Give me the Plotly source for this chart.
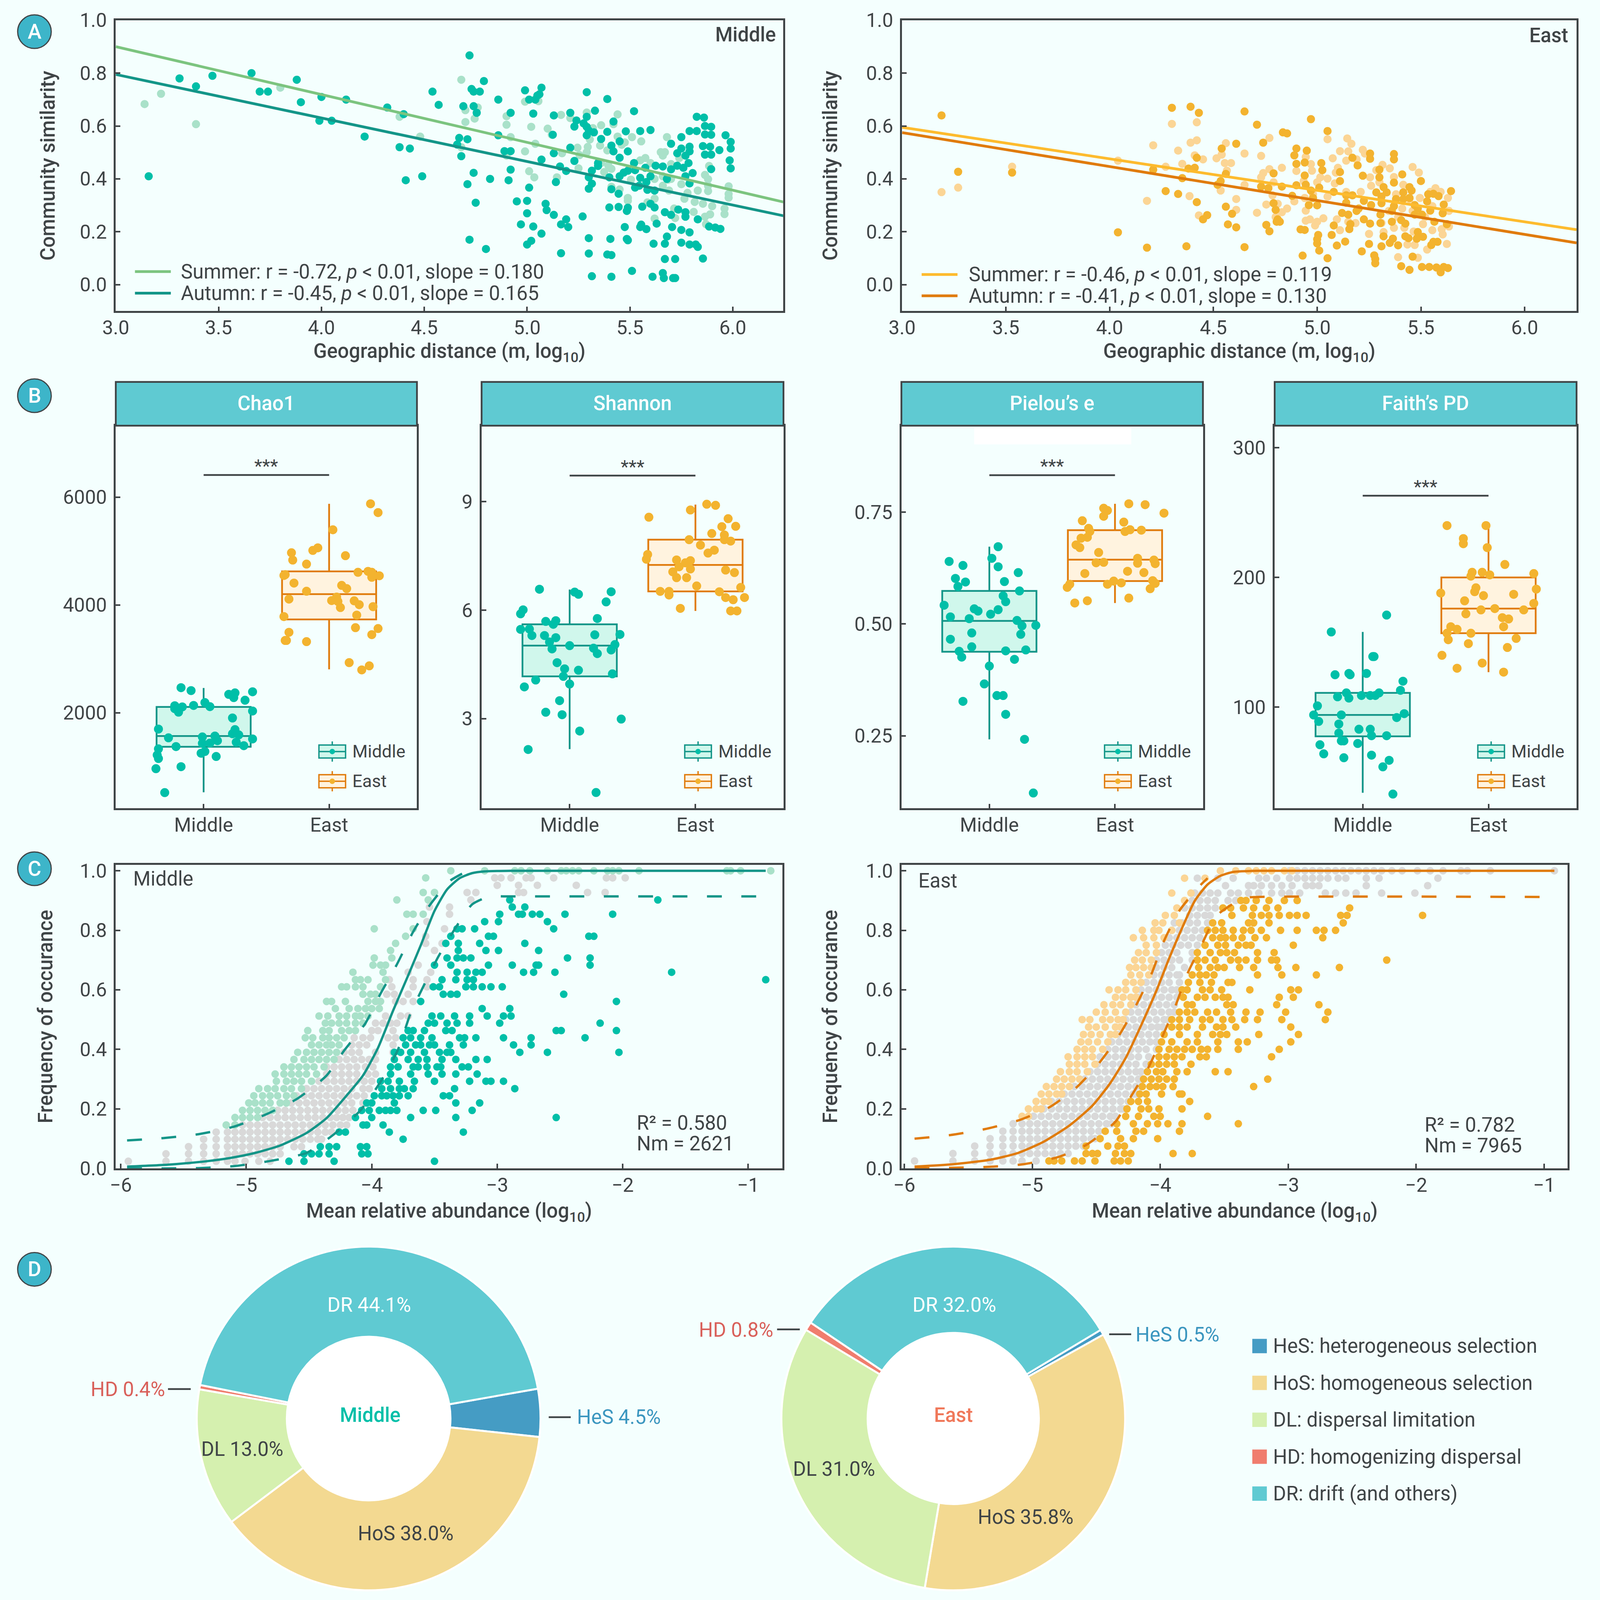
import plotly.graph_objects as go

# positions below are read in the reference's own pixels (4505 x 4901);
# the browser window caps at 4096 x 4096 so the figure is laid out to fill that
W = 4505
H = 4901
OUT = 4096
SX = OUT / W
SY = OUT / H

BG = "#F4FFFE"
INK = "#3F4446"
STRIP = "#5FCAD2"
TEAL = "#00BFA8"
TEAL_LINE = "#149588"
TEAL_FILL = "#D0F7EC"
GREEN_PALE = "#A9E1C9"
GREEN_LINE = "#7CC47F"
ORANGE = "#F3B32F"
ORANGE_LINE = "#E07B0C"
ORANGE_FILL = "#FFF3DF"
ORANGE_PALE = "#FBD595"
YELLOW_LINE = "#FDBB2E"
GRAY = "#D9D9D9"

# -------------------------
# A: DISTANCE DECAY DATA
# -------------------------
mid_autumn_x = [3.16,3.31,3.39,3.47,3.66,3.70,3.74,3.88,3.90,3.99,4.00,4.05,4.12,4.21,4.32,4.38,4.40,4.43,4.41,4.49,4.54,4.57,4.66,4.67,4.71,4.68,4.69,4.72,4.73,4.74,4.77,4.79,4.74,4.755,4.74,4.71,4.75,4.82,4.72,4.80,4.86,4.92,4.86,4.89,4.92,4.92,4.91,4.95,5.00,5.01,5.00,4.97,5.03,5.07,5.02,5.00,4.99,5.01,5.04,5.05,5.06,5.07,5.03,5.13,5.21,5.125,5.13,5.21,5.07,5.16,5.23,5.19,5.14,5.09,5.095,5.13,5.19,5.165,5.20,5.27,5.30,5.165,5.30,5.315,5.41,5.405,5.39,5.41,5.475,5.485,5.49,5.51,5.61,5.615,5.67,5.66,5.665,5.71,5.72,5.67,5.72,5.855,5.68,5.75,5.79,5.82,5.83,5.79,5.75,5.705,5.55,5.555,5.58,5.63,5.83,5.885,5.915,5.94,5.29,5.39,5.33,5.52,5.29,5.24,5.275,5.23,5.29,5.30,5.325,5.29,5.42,5.39,5.36,5.48,5.55,5.60,5.45,5.41,5.42,5.49,5.45,5.345,5.345,5.315,5.30,5.315,5.30,5.40,5.41,5.445,5.40,5.445,5.49,5.485,5.45,5.47,5.52,5.49,5.525,5.575,5.55,5.58,5.525,5.545,5.585,5.62,5.60,5.625,5.66,5.70,5.73,5.76,5.785,5.805,5.77,5.79,5.68,5.60,5.62,5.56,5.67,5.70,5.735,5.77,5.77,5.70,5.75,5.73,5.75,5.77,5.79,5.79,5.79,5.825,5.825,5.86,5.865,5.895,5.865,5.895,5.855,5.89,5.865,5.895,5.895,5.935,5.965,5.99,5.99,5.985,5.99]
mid_autumn_y = [.41,.78,.75,.79,.80,.73,.73,.775,.69,.62,.71,.62,.70,.56,.67,.52,.645,.515,.395,.41,.73,.68,.53,.555,.55,.486,.675,.867,.74,.73,.73,.77,.675,.65,.423,.38,.31,.40,.17,.135,.70,.65,.565,.505,.505,.435,.395,.315,.317,.367,.27,.228,.22,.193,.166,.152,.735,.70,.70,.715,.72,.745,.647,.64,.65,.567,.497,.518,.473,.447,.468,.43,.388,.306,.282,.264,.247,.228,.218,.258,.176,.119,.118,.032,.03,.173,.114,.112,.218,.173,.168,.052,.03,.155,.155,.044,.025,.025,.025,.097,.097,.099,.182,.159,.152,.152,.143,.198,.207,.218,.218,.227,.21,.231,.247,.22,.216,.211,.728,.702,.658,.656,.635,.621,.61,.598,.597,.583,.576,.565,.617,.578,.551,.58,.581,.585,.542,.526,.504,.504,.48,.46,.449,.431,.406,.382,.363,.406,.361,.344,.292,.294,.291,.279,.41,.424,.46,.431,.433,.442,.404,.388,.367,.374,.359,.356,.41,.45,.447,.436,.45,.442,.46,.422,.41,.383,.40,.306,.292,.295,.274,.264,.284,.274,.257,.533,.558,.497,.515,.488,.504,.522,.581,.581,.635,.632,.60,.597,.568,.567,.524,.522,.492,.492,.437,.509,.565,.54,.515,.47,.44]
mid_summer_x = [3.14,3.22,3.39,3.80,4.38,4.48,4.68,4.70,4.76,4.70,4.745,4.68,4.90,4.90,4.92,4.90,4.99,5.055,5.02,5.04,4.99,5.01,5.035,5.10,5.12,5.165,5.21,5.17,5.245,5.145,5.25,5.29,5.36,5.32,5.44,5.42,5.305,5.355,5.295,5.29,5.255,5.39,5.46,5.44,5.475,5.51,5.555,5.36,5.395,5.375,5.41,5.41,5.49,5.49,5.505,5.55,5.575,5.60,5.65,5.67,5.66,5.68,5.74,5.70,5.66,5.685,5.66,5.69,5.585,5.62,5.62,5.72,5.715,5.765,5.78,5.815,5.83,5.855,5.81,5.865,5.87,5.865,5.88,5.885,5.88,5.88,5.90,5.89,5.96,5.96,5.98,5.98,5.98,5.70,5.75,5.62,5.45]
mid_summer_y = [.683,.722,.607,.745,.635,.56,.775,.66,.67,.615,.628,.52,.637,.605,.558,.488,.692,.694,.597,.533,.504,.429,.406,.59,.567,.642,.63,.497,.518,.406,.44,.651,.603,.592,.644,.607,.549,.526,.521,.501,.49,.508,.529,.56,.538,.558,.542,.46,.451,.426,.438,.37,.328,.317,.397,.47,.479,.46,.501,.501,.488,.558,.479,.456,.41,.397,.374,.356,.311,.325,.25,.252,.288,.325,.347,.313,.356,.306,.275,.257,.229,.415,.399,.449,.374,.354,.297,.266,.288,.267,.372,.343,.329,.40,.38,.40,.36]
mid_fit_x = [3.0, 6.25]
mid_summer_fit = [0.90, 0.312]
mid_autumn_fit = [0.795, 0.26]

east_autumn_x = [3.19,3.27,3.53,4.04,4.18,4.21,4.30,4.39,4.43,4.27,4.33,4.35,4.38,4.41,4.42,4.42,4.37,4.45,4.47,4.52,4.535,4.56,4.54,4.61,4.65,4.71,4.74,4.835,4.855,4.56,4.59,4.57,4.61,4.65,4.73,4.765,4.79,4.83,4.79,4.80,4.81,4.805,4.82,4.755,4.77,4.90,4.95,4.89,4.90,4.94,4.94,4.90,4.945,4.88,4.97,5.05,5.02,5.025,5.01,4.97,4.98,5.08,5.11,5.11,4.96,5.00,4.92,4.94,5.005,5.00,5.00,5.01,4.93,5.05,5.07,5.08,5.095,5.135,5.17,5.195,5.255,5.255,5.22,5.30,5.30,5.37,5.37,5.37,5.41,5.50,5.445,5.455,5.415,5.285,5.335,5.32,5.31,5.225,5.14,5.17,5.14,5.12,5.15,5.19,5.20,5.26,5.31,5.38,5.415,5.445,5.37,5.36,5.305,5.225,5.16,5.155,5.255,5.305,5.36,5.405,5.425,5.47,5.485,5.47,5.505,5.53,5.535,5.56,5.585,5.61,5.545,5.605,5.645,5.565,5.625,5.32,5.365,5.35,5.39,5.25,5.31,5.215,5.275,5.28,5.28,5.405,5.445,5.46,5.425,5.44,5.485,5.48,5.51,5.55,5.56,5.58,5.505,5.54,5.575,5.61,5.63,5.595]
east_autumn_y = [.64,.427,.424,.198,.14,.435,.669,.673,.65,.354,.343,.403,.439,.442,.48,.312,.145,.247,.263,.378,.392,.419,.515,.533,.655,.605,.537,.576,.572,.295,.268,.228,.217,.142,.371,.365,.421,.371,.308,.283,.247,.238,.238,.226,.202,.515,.507,.489,.457,.462,.413,.376,.378,.336,.626,.581,.46,.433,.367,.356,.328,.351,.426,.392,.301,.30,.209,.207,.188,.172,.156,.129,.11,.10,.188,.224,.148,.163,.48,.451,.496,.476,.412,.435,.406,.494,.474,.386,.417,.392,.369,.356,.349,.349,.349,.369,.333,.317,.338,.338,.31,.271,.265,.279,.288,.301,.308,.324,.324,.328,.297,.279,.265,.247,.229,.21,.231,.233,.238,.244,.231,.301,.288,.265,.265,.315,.342,.344,.335,.303,.28,.27,.354,.238,.229,.183,.174,.158,.149,.154,.145,.126,.111,.097,.081,.07,.056,.106,.183,.176,.199,.174,.181,.15,.162,.162,.067,.067,.065,.067,.063,.047]
east_summer_x = [3.19,3.27,3.53,4.04,4.18,4.21,4.27,4.30,4.33,4.42,4.42,4.39,4.41,4.35,4.45,4.385,4.43,4.515,4.56,4.54,4.555,4.585,4.565,4.535,4.61,4.61,4.65,4.65,4.71,4.73,4.77,4.74,4.73,4.77,4.83,4.79,4.785,4.755,4.81,4.83,4.80,4.855,4.90,4.945,4.97,4.975,4.935,4.89,4.94,4.98,4.945,4.965,4.945,4.99,5.03,5.00,5.05,5.11,5.075,5.15,5.145,5.165,5.22,5.23,5.14,5.015,5.05,5.00,5.085,5.10,5.09,5.19,5.285,5.315,5.35,5.37,5.255,5.26,5.30,5.21,5.14,5.05,5.46,5.49,5.415,5.38,5.445,5.095,5.15,5.11,5.185,5.25,5.32,5.37,5.42,5.31,5.345,5.39,5.435,5.47,5.39,5.485,5.53,5.465,5.51,5.555,5.60,5.495,5.545,5.595,5.57,5.63,5.635,5.605,5.625,5.52,5.555,5.635,5.41,5.46]
east_summer_y = [.35,.367,.446,.469,.317,.527,.446,.608,.507,.614,.546,.537,.489,.457,.474,.335,.262,.478,.535,.492,.46,.46,.431,.356,.324,.283,.496,.377,.272,.487,.555,.422,.406,.437,.442,.387,.338,.303,.306,.274,.256,.288,.43,.483,.456,.431,.392,.315,.328,.342,.28,.247,.242,.224,.251,.238,.55,.505,.478,.504,.553,.533,.51,.496,.469,.406,.401,.387,.383,.442,.424,.474,.433,.453,.44,.407,.406,.374,.387,.351,.351,.333,.445,.424,.378,.342,.324,.247,.238,.206,.233,.192,.199,.215,.215,.233,.279,.256,.152,.15,.104,.102,.133,.201,.229,.206,.21,.328,.351,.351,.365,.328,.22,.19,.154,.256,.297,.279,.288,.279]
east_fit_x = [3.0, 6.25]
east_summer_fit = [0.595, 0.208]
east_autumn_fit = [0.575, 0.158]

# -------------------------
# B: ALPHA DIVERSITY DATA
# -------------------------
chao_mid_box = dict(q1=1368, median=1568, q3=2108, low=524, high=2459)
chao_east_box = dict(q1=3730, median=4200, q3=4622, low=2805, high=5876)
chao_mid_jit = [-.18,-.10,.20,.25,.24,.39,.33,.01,-.08,.05,-.23,-.17,-.23,-.20,.39,.23,-.36,.25,.23,.28,-.01,-.28,.09,.11,.05,-.01,.26,.39,.32,-.22,-.36,.01,-.02,-.37,.10,-.36,-.18,-.38,-.31]
chao_mid_val = [2465,2411,2341,2368,2281,2389,2232,2189,2135,2114,2130,2108,2076,2011,2032,1903,1697,1687,1611,1589,1551,1535,1568,1481,1438,1432,1454,1514,1389,1373,1330,1281,1249,1216,1189,1151,1000,962,519]
chao_east_jit = [.33,.39,.03,-.30,-.29,-.13,-.09,.13,-.18,-.35,-.36,.23,.31,.34,.40,.34,-.28,.10,.14,-.18,-.32,.06,.02,.07,.09,.20,.24,.35,-.36,.22,.21,.39,.34,-.32,-.35,-.34,-.18,.16,.32,.26]
chao_east_val = [5876,5713,5394,4967,4832,5011,5059,4913,4757,4562,4546,4605,4622,4605,4541,4513,4405,4362,4303,4254,4108,4146,4081,4065,3951,4076,4005,3968,3784,3811,3578,3562,3449,3492,3341,3341,3319,2930,2870,2795]

shan_mid_box = dict(q1=4.17, median=5.02, q3=5.61, low=2.16, high=6.57)
shan_east_box = dict(q1=6.52, median=7.25, q3=7.95, low=5.98, high=8.92)
shan_mid_jit = [-.24,.04,.07,.33,.29,-.37,-.39,.22,-.19,-.11,-.13,-.39,-.32,-.30,-.20,.20,.40,-.11,-.16,.36,0,-.14,.19,.33,.22,-.10,-.04,.07,.34,-.05,-.27,0,-.36,-.08,-.19,-.06,.41,.08,-.33,.21]
shan_mid_val = [6.58,6.50,6.44,6.51,6.23,6.01,5.90,5.77,5.69,5.71,5.61,5.47,5.48,5.30,5.30,5.32,5.33,5.24,5.12,5.05,5.02,4.93,4.95,4.90,4.80,4.55,4.38,4.34,4.24,4.17,4.07,3.96,3.88,3.50,3.18,3.11,2.99,2.66,2.15,.96]
shan_east_jit = [.09,.16,-.04,-.37,.26,.32,.21,.13,.23,-.05,.23,.28,.04,.15,.10,-.38,-.39,-.15,-.04,-.08,-.13,-.04,.24,-.18,.31,-.15,-.07,.01,.36,-.28,-.21,-.21,.19,.24,.30,.39,-.12,.28,.33]
shan_east_val = [8.93,8.90,8.77,8.57,8.53,8.32,8.31,8.12,8.08,7.95,7.95,7.91,7.80,7.66,7.58,7.54,7.41,7.39,7.37,7.31,7.20,7.14,7.11,7.06,7.04,6.90,6.90,6.67,6.63,6.52,6.52,6.42,6.51,6.35,6.29,6.35,6.05,5.98,5.98]

piel_mid_box = dict(q1=.438, median=.507, q3=.574, low=.242, high=.673)
piel_east_box = dict(q1=.596, median=.644, q3=.710, low=.547, high=.769)
piel_mid_jit = [.07,.02,-.32,-.21,.07,.23,-.27,-.19,.12,-.25,.24,.11,.13,-.36,-.12,-.09,.07,.01,-.31,-.16,.22,.26,.37,-.14,.25,-.31,-.14,-.24,.13,.29,-.22,.20,0,-.04,.06,.11,-.21,.13,.28,.35]
piel_mid_val = [.673,.647,.640,.631,.628,.615,.602,.594,.595,.584,.574,.563,.550,.542,.534,.529,.532,.522,.516,.512,.508,.496,.497,.480,.477,.466,.449,.439,.440,.442,.426,.421,.406,.366,.340,.340,.327,.298,.242,.122]
piel_east_jit = [.11,.24,-.09,-.06,.39,-.09,-.26,.07,-.21,.12,.08,.21,-.20,-.27,-.22,-.31,-.28,-.13,.18,.31,-.15,-.09,.32,.18,.10,.23,-.24,-.01,.05,-.06,.30,.32,-.36,-.38,.28,.11,-.22,-.32]
piel_east_val = [.769,.767,.759,.754,.748,.741,.731,.728,.714,.711,.707,.710,.707,.692,.694,.677,.671,.660,.647,.643,.637,.638,.635,.636,.618,.615,.613,.596,.592,.589,.597,.591,.589,.582,.579,.558,.552,.547]

faith_mid_box = dict(q1=77.5, median=94, q3=111, low=34, high=158)
faith_east_box = dict(q1=157, median=176, q3=200, low=127, high=240)
faith_mid_jit = [.19,-.25,.08,.09,-.22,-.11,-.10,.03,.32,.30,.13,-.13,-.20,-.11,-.01,.06,.10,-.36,-.39,-.17,.33,.27,-.35,-.19,-.03,.06,-.19,.07,.19,-.17,-.15,-.34,-.04,-.31,.07,-.15,.21,.16,.24]
faith_mid_val = [171,158,139,139,125,126,125,126,120,113,111,111,108,107,109,109,109,101,94,94,95,92,89,87,83,83,80,78,78,74,74,71,72,64,63,61,59,54,33]
faith_east_jit = [-.33,-.02,-.20,-.20,-.01,.13,-.05,-.13,-.14,.01,.36,-.10,-.11,.38,-.38,.20,-.04,-.19,.36,-.06,.05,.28,-.18,.11,.16,.12,-.30,-.25,-.14,-.33,.22,-.32,-.16,.15,-.37,-.05,-.25,.12]
faith_east_val = [240,240,230,226,223,210,204,204,201,202,203,192,189,191,188,187,186,182,180,175,176,175,172,169,168,162,162,160,157,157,153,152,149,146,140,134,130,127]

# -------------------------
# C: NEUTRAL MODEL DATA
# -------------------------
mid_levels = [.024,.049,.073,.098,.122,.146,.171,.195,.22,.244,.268,.293,.317,.341,.366,.39,.415,.439,.463,.488,.512,.537,.561,.585,.61,.634,.659,.683,.707,.732,.756,.78,.805,.829,.854,.878,.902,.927,.951,.976,1.0]
east_levels = [.025,.05,.075,.1,.125,.15,.175,.2,.225,.25,.275,.3,.325,.35,.375,.4,.425,.45,.475,.5,.525,.55,.575,.6,.625,.65,.675,.7,.725,.75,.775,.8,.825,.85,.875,.9,.925,.95,.975,1.0]

# rows are numbered from the bottom of the plot
mid_gray = {
    1: [-5.94,-5.64,-5.46,-5.34,-5.24,-5.15,-5.09,-5.01,-4.90,-4.81],
    2: [-5.64,-5.46,-5.34,-5.24,-5.15,-5.09,-5.03,-4.97,-4.91,-4.85,-4.79,-4.73],
    3: [-5.46,-5.34,-5.24,-5.15,-5.09,-5.03,-4.97,-4.91,-4.85,-4.79,-4.73,-4.62,-4.56],
    4: [-5.34,-5.24,-5.15,-5.09,-5.03,-4.97,-4.91,-4.85,-4.79,-4.73,-4.67,-4.61,-4.55,-4.49,-4.43,-4.40],
    5: [-5.24,-5.15,-5.09,-5.03,-4.97,-4.91,-4.85,-4.79,-4.73,-4.67,-4.61,-4.55,-4.49,-4.43,-4.37,-4.32],
    6: [-5.09,-5.03,-4.97,-4.91,-4.85,-4.79,-4.73,-4.67,-4.61,-4.55,-4.49,-4.43,-4.37,-4.31,-4.25,-4.20],
    7: [-4.87,-4.81,-4.75,-4.69,-4.63,-4.57,-4.51,-4.45,-4.39,-4.33,-4.28,-4.23,-4.18],
    8: [-4.75,-4.69,-4.63,-4.57,-4.51,-4.45,-4.39,-4.33,-4.27,-4.21,-4.15],
    9: [-4.64,-4.58,-4.52,-4.46,-4.40,-4.34,-4.28,-4.22,-4.16,-4.07],
    10: [-4.60,-4.54,-4.48,-4.42,-4.36,-4.30,-4.24,-4.18,-4.12,-4.06],
    11: [-4.52,-4.46,-4.40,-4.34,-4.28,-4.22,-4.16,-4.07,-4.02],
    12: [-4.42,-4.36,-4.30,-4.24,-4.18,-4.12,-4.06,-4.00],
    13: [-4.36,-4.30,-4.24,-4.18,-4.12,-4.03,-3.97],
    14: [-4.36,-4.30,-4.24,-4.18,-4.12,-4.05,-3.99],
    15: [-4.26,-4.20,-4.14,-4.08,-4.02,-3.97],
    16: [-4.22,-4.16,-4.10,-3.97,-3.83],
    17: [-4.16,-4.10,-4.04,-3.83],
    18: [-4.14,-4.07,-4.01,-3.87,-3.81],
    19: [-4.00,-3.95,-3.83],
    20: [-3.97,-3.91,-3.85,-3.80],
    21: [-3.89,-3.77,-3.71],
    23: [-3.95,-3.81,-3.75,-3.67],
    24: [-3.88,-3.82,-3.71],
    25: [-3.84,-3.67,-3.56],
    26: [-3.86,-3.67,-3.56],
    27: [-3.71,-3.53],
    28: [-3.63],
    30: [-3.50],
    31: [-3.57,-3.44],
    32: [-3.57],
    33: [-3.42],
    34: [-3.56],
    35: [-3.38],
    36: [-3.54,-3.38],
    37: [-3.21],
    38: [-3.24,-3.17,-2.83,-2.79,-2.28,-2.14],
    39: [-3.0,-2.83,-2.68,-2.37],
    40: [-3.02,-2.97,-2.89,-2.77,-2.73,-2.55,-2.13,-2.08,-1.98],
}
mid_above = {
    6: [-5.16,-5.09],
    7: [-5.09,-5.03,-4.97,-4.91],
    8: [-5.03,-4.97,-4.91,-4.85,-4.79],
    9: [-4.98,-4.93,-4.87,-4.81,-4.73,-4.68],
    10: [-4.94,-4.87,-4.81,-4.75,-4.68,-4.62],
    11: [-4.90,-4.83,-4.77,-4.70,-4.64,-4.56],
    12: [-4.76,-4.68,-4.62,-4.56,-4.48],
    13: [-4.77,-4.70,-4.64,-4.58,-4.52,-4.44],
    14: [-4.70,-4.64,-4.58,-4.52,-4.46,-4.38],
    15: [-4.62,-4.54,-4.48,-4.42,-4.36,-4.30],
    16: [-4.59,-4.52,-4.46,-4.40,-4.34,-4.28],
    17: [-4.48,-4.42,-4.36,-4.32,-4.26],
    18: [-4.53,-4.47,-4.39,-4.34,-4.28,-4.22],
    19: [-4.51,-4.39,-4.34,-4.24,-4.18,-4.13],
    20: [-4.37,-4.32,-4.26,-4.20,-4.13,-4.07],
    21: [-4.42,-4.35,-4.26,-4.20,-4.13,-4.09,-4.03],
    22: [-4.29,-4.18,-4.11,-4.05,-4.00,-3.94],
    23: [-4.36,-4.32,-4.21,-4.03,-3.97,-3.93],
    24: [-4.07,-4.01,-3.97],
    25: [-4.24,-4.20,-4.13,-4.07,-3.93],
    26: [-4.13,-4.09,-4.03,-3.89],
    27: [-4.15,-3.91],
    28: [-3.99,-3.93,-3.89],
    29: [-3.98,-3.84],
    30: [-3.85],
    31: [-3.81],
    32: [-3.73],
    33: [-3.98,-3.67],
    35: [-3.72,-3.67,-3.59],
    37: [-3.80,-3.55],
    38: [-3.59,-3.50],
    40: [-3.57],
    41: [-3.37,-3.10,-2.86,-2.81,-2.74,-2.60,-2.49,-2.45,-2.40,-2.35,-2.23,-2.12,-2.08,-2.03,-1.87,-1.17,-1.14,-1.06,-.82],
}
mid_below = {
    1: [-4.66,-4.54,-4.30,-3.50],
    2: [-4.54,-4.48,-4.42,-4.34,-4.08,-4.03],
    3: [-4.41,-4.34,-4.28,-4.09,-4.04],
    4: [-3.75],
    5: [-4.26,-4.21,-3.86,-3.27],
    6: [-4.07,-4.04,-3.91],
    7: [-4.13,-4.00,-3.69,-3.33,-2.53],
    8: [-4.08,-4.02,-3.94,-3.89,-3.85,-3.80,-3.59,-3.49,-3.20],
    9: [-4.04,-4.00,-3.82,-3.33,-3.14],
    10: [-3.98,-3.92,-3.88,-3.83,-3.78,-3.71,-3.43,-3.38],
    11: [-3.92,-3.85,-3.78,-3.74,-3.67,-3.34,-2.86],
    12: [-3.93,-3.87,-3.78,-3.66,-3.50,-3.22,-3.09,-3.05,-2.95],
    13: [-3.85,-3.69,-3.55,-3.44,-3.33,-3.16],
    14: [-3.85,-3.79,-3.67,-3.63,-3.56,-3.48,-3.45,-3.28,-3.23],
    15: [-3.82,-3.71,-3.63,-3.56,-3.44,-3.33,-3.17,-3.08],
    16: [-3.82,-3.77,-3.69,-3.58,-3.46,-3.40,-3.37,-2.82,-2.60,-2.03],
    17: [-3.73,-3.65,-3.61,-3.54,-3.50,-3.38,-3.27,-2.87,-2.73],
    18: [-3.75,-3.69,-3.61,-3.52,-3.30,-3.26,-3.17,-2.95,-2.73,-2.30],
    19: [-3.71,-3.67,-3.58,-3.41,-3.36,-2.53,-2.49,-2.05],
    20: [-3.55,-3.50,-3.40,-3.32,-3.22,-2.98,-2.18],
    21: [-3.52,-3.45,-3.34,-3.22,-3.08,-2.95,-2.89],
    22: [-3.12,-2.90],
    23: [-3.61,-2.05],
    24: [-3.43,-3.37,-3.32,-2.47],
    25: [-3.51,-3.46,-3.25,-3.19,-3.12,-3.05,-2.96],
    26: [-3.44,-3.33,-3.24,-3.19,-.86],
    27: [-3.32,-3.24,-3.17,-3.12,-2.79,-2.71,-2.54,-1.61],
    28: [-3.50,-3.37,-3.07,-2.88,-2.69,-2.67,-2.26],
    29: [-3.40,-3.32,-3.27,-3.21,-2.44,-2.26],
    30: [-3.31,-3.09,-2.99,-2.67],
    31: [-3.41,-3.31,-3.14,-2.78],
    32: [-3.37,-3.07,-3.03,-2.27,-2.23],
    33: [-3.32,-3.28,-3.18,-2.55],
    34: [-3.10,-2.99,-2.60],
    35: [-2.98,-2.83,-2.80,-2.72,-2.66,-2.46,-2.08],
    36: [-2.88,-2.78],
    37: [-2.90,-1.72],
}
mid_curve_x = [-5.95,-5.62,-5.34,-5.13,-4.93,-4.73,-4.52,-4.36,-4.20,-4.07,-3.95,-3.83,-3.71,-3.61,-3.50,-3.40,-3.30,-3.20,-3.10,-2.89,-.86]
mid_curve_y = [.006,.0126,.023,.035,.052,.077,.119,.169,.245,.312,.405,.53,.648,.749,.865,.937,.975,.992,.998,1.0,1.0]
mid_upper_x = [-5.95,-5.66,-5.38,-5.10,-4.84,-4.59,-4.36,-4.22,-4.05,-3.93,-3.80,-3.67,-3.54,-3.38,-3.28]
mid_upper_y = [.094,.102,.115,.14,.182,.235,.312,.396,.488,.587,.685,.795,.883,.965,.99]
mid_lower_x = [-5.95,-5.66,-5.38,-5.09,-4.81,-4.52,-4.30,-4.09,-3.93,-3.79,-3.69,-3.61,-3.47,-3.34,-3.20,-3.06,-2.95,-.86]
mid_lower_y = [0,0,.001,.008,.025,.052,.115,.195,.291,.40,.522,.593,.711,.803,.887,.914,.914,.914]

east_gray = {
    1: [-5.92,-5.62,-5.45,-5.33,-5.23,-5.15,-5.08,-4.97],
    2: [-5.62,-5.45,-5.33,-5.23,-5.15,-5.08,-5.02,-4.96,-4.90,-4.84,-4.78,-4.72],
    3: [-5.45,-5.33,-5.23,-5.15,-5.08,-5.02,-4.96,-4.90,-4.84,-4.78,-4.72,-4.66,-4.60],
    4: [-5.33,-5.23,-5.15,-5.08,-5.02,-4.96,-4.90,-4.84,-4.78,-4.72,-4.66,-4.60,-4.54,-4.51],
    5: [-5.23,-5.15,-5.08,-5.02,-4.96,-4.90,-4.84,-4.78,-4.72,-4.66,-4.60,-4.54,-4.48],
    6: [-5.15,-5.08,-5.02,-4.96,-4.90,-4.84,-4.78,-4.72,-4.66,-4.60,-4.54,-4.48,-4.42,-4.38],
    7: [-4.99,-4.93,-4.87,-4.81,-4.75,-4.69,-4.63,-4.57,-4.51,-4.45,-4.39,-4.35],
    8: [-4.91,-4.85,-4.79,-4.73,-4.67,-4.61,-4.55,-4.49,-4.43,-4.37,-4.31,-4.29],
    9: [-4.85,-4.79,-4.73,-4.67,-4.61,-4.55,-4.49,-4.43,-4.37,-4.31,-4.25],
    10: [-4.75,-4.69,-4.63,-4.57,-4.51,-4.45,-4.39,-4.33,-4.27,-4.21,-4.19],
    11: [-4.67,-4.61,-4.55,-4.49,-4.43,-4.37,-4.31,-4.25,-4.19,-4.15],
    12: [-4.59,-4.53,-4.47,-4.41,-4.35,-4.29,-4.23,-4.17,-4.15],
    13: [-4.55,-4.49,-4.43,-4.37,-4.31,-4.25,-4.19,-4.15],
    14: [-4.49,-4.43,-4.37,-4.31,-4.25,-4.19,-4.11],
    15: [-4.47,-4.41,-4.35,-4.29,-4.23,-4.17,-4.09],
    16: [-4.41,-4.35,-4.29,-4.23,-4.17,-4.11,-4.03],
    17: [-4.38,-4.32,-4.26,-4.20,-4.14,-4.08,-4.03],
    18: [-4.33,-4.27,-4.21,-4.15,-4.09,-4.03],
    19: [-4.31,-4.25,-4.19,-4.13,-4.07,-4.02,-3.98],
    20: [-4.27,-4.21,-4.15,-4.09,-4.03,-3.97,-3.94],
    21: [-4.23,-4.17,-4.11,-4.05,-3.99,-3.93,-3.89],
    22: [-4.19,-4.13,-4.07,-4.01,-3.95,-3.89],
    23: [-4.17,-4.11,-4.05,-3.99,-3.93,-3.87],
    24: [-4.15,-4.09,-4.03,-3.97,-3.91,-3.87],
    25: [-4.11,-4.05,-3.99,-3.93,-3.85],
    26: [-4.05,-3.99,-3.93,-3.87,-3.85],
    27: [-4.03,-3.97,-3.91,-3.81],
    28: [-4.03,-3.97,-3.91,-3.85,-3.75],
    29: [-3.99,-3.93,-3.87,-3.75],
    30: [-3.96,-3.90,-3.84,-3.78,-3.71],
    31: [-3.93,-3.87,-3.81,-3.75,-3.69],
    32: [-3.91,-3.85,-3.79,-3.73,-3.67],
    33: [-3.89,-3.83,-3.77,-3.71,-3.63],
    34: [-3.77,-3.71,-3.65,-3.61],
    35: [-3.81,-3.75,-3.69,-3.63,-3.57,-3.51],
    36: [-3.75,-3.69,-3.63,-3.57,-3.47,-3.41],
    37: [-3.73,-3.67,-3.61,-3.55,-3.45,-3.39,-3.31,-3.23,-3.13,-3.05,-2.99,-2.91,-2.71,-2.63,-2.55,-2.47,-2.27,-2.01],
    38: [-3.49,-3.31,-3.27,-3.21,-3.13,-3.05,-2.97,-2.86,-2.81,-2.76,-2.39,-1.91],
    39: [-3.71,-3.55,-3.43,-3.23,-3.17,-3.09,-2.99,-2.93,-2.87,-2.81,-2.75,-2.69,-2.61,-2.55,-2.39,-2.29,-1.83],
    40: [-2.99,-2.93,-2.87,-2.81,-2.75,-2.69,-2.63,-2.57,-2.51,-2.45,-2.39,-2.33,-2.27,-2.19,-2.11,-1.99,-1.89,-1.79,-1.65,-1.60,-1.42,-.92],
}
east_above = {
    7: [-5.08,-5.03],
    8: [-5.03,-4.97,-4.93],
    9: [-4.97,-4.91,-4.87],
    10: [-4.93,-4.87,-4.81,-4.77],
    11: [-4.89,-4.83,-4.77,-4.71],
    12: [-4.81,-4.75,-4.69,-4.63],
    13: [-4.78,-4.71,-4.65,-4.57],
    14: [-4.71,-4.65,-4.59,-4.51],
    15: [-4.72,-4.65,-4.59,-4.53],
    16: [-4.65,-4.59,-4.53,-4.45],
    17: [-4.62,-4.56,-4.49,-4.41],
    18: [-4.60,-4.54,-4.47,-4.39,-4.35],
    19: [-4.56,-4.50,-4.43,-4.35,-4.31],
    20: [-4.61,-4.55,-4.45,-4.39,-4.33,-4.29],
    21: [-4.50,-4.43,-4.35,-4.27],
    22: [-4.44,-4.37,-4.31,-4.23],
    23: [-4.35,-4.29,-4.23,-4.19],
    24: [-4.40,-4.33,-4.27,-4.19],
    25: [-4.27,-4.21,-4.15],
    26: [-4.23,-4.16,-4.09],
    27: [-4.24,-4.19,-4.13,-4.07],
    28: [-4.20,-4.14,-4.07],
    29: [-4.17,-4.11,-4.03],
    30: [-4.11,-4.03],
    31: [-4.21,-4.13,-4.05,-3.97],
    32: [-4.14,-4.05,-4.01,-3.91],
    33: [-4.04,-3.98,-3.85],
    34: [-3.96,-3.89],
    35: [-3.87],
    36: [-3.81],
    37: [-3.91,-3.76],
    39: [-3.81,-3.65],
    40: [-3.53,-3.41,-3.31,-3.25,-3.19,-3.13,-3.03,-2.97],
}
east_below = {
    1: [-4.87,-4.83,-4.77,-4.67,-4.61,-4.51,-4.36,-4.31,-4.25],
    2: [-4.58,-4.53,-4.49,-4.35,-4.28,-4.23,-3.90,-3.75],
    3: [-4.58,-4.41,-4.33,-4.28],
    4: [-4.47,-4.31,-4.21,-4.02],
    5: [-4.43,-4.34,-4.19,-4.13,-3.85],
    6: [-4.34,-4.21,-4.10,-4.02,-3.94,-3.83,-3.39],
    7: [-4.27,-4.17,-4.05,-4.00,-3.63],
    8: [-4.26,-4.15,-4.09,-4.01,-3.83],
    9: [-4.23,-4.17,-4.10,-3.77],
    10: [-4.16,-4.11,-3.99,-3.85,-3.83],
    11: [-4.14,-4.08,-4.03,-3.98,-3.90,-3.27],
    12: [-4.13,-4.07,-4.01,-3.95,-3.89,-3.16],
    13: [-4.10,-4.03,-3.98,-3.87,-3.79,-3.57,-3.47],
    14: [-4.07,-4.01,-3.95,-3.89,-3.76],
    15: [-4.01,-3.95,-3.89,-3.83,-3.69,-3.64,-3.13],
    16: [-4.01,-3.93,-3.87,-3.81,-3.75,-3.68,-3.63,-3.55,-3.39,-3.07],
    17: [-3.99,-3.91,-3.79,-3.71,-3.55,-3.39,-3.32,-2.98],
    18: [-3.97,-3.85,-3.71,-3.59,-3.53,-3.48,-3.23,-2.92],
    19: [-3.91,-3.85,-3.79,-3.67,-3.56,-3.51,-3.41,-2.98],
    20: [-3.91,-3.85,-3.77,-3.67,-3.61,-3.51,-3.44,-3.34,-3.24,-3.05,-2.71],
    21: [-3.85,-3.79,-3.73,-3.63,-3.56,-3.45,-3.33,-3.22,-3.02,-2.69],
    22: [-3.79,-3.75,-3.48,-3.43,-3.09,-2.76],
    23: [-3.82,-3.71,-3.65,-3.57,-3.51,-3.47,-3.07,-2.96],
    24: [-3.83,-3.79,-3.67,-3.61,-3.52,-3.30,-2.98,-2.92],
    25: [-3.78,-3.69,-3.60,-3.47,-3.44],
    26: [-3.75,-3.69,-3.64,-3.58,-3.24,-3.05,-2.78],
    27: [-3.70,-3.61,-3.55,-3.50,-3.38,-3.27,-3.08,-2.94,-2.60],
    28: [-3.71,-3.65,-3.57,-3.45,-3.39,-3.33,-3.24,-3.13,-3.09,-2.23],
    29: [-3.71,-3.61,-3.53,-3.48,-3.42,-3.24,-3.11],
    30: [-3.65,-3.55,-3.49,-3.39,-3.33,-3.29,-2.96],
    31: [-3.59,-3.53,-3.49,-3.43,-3.36,-3.26,-3.17,-2.73],
    32: [-3.63,-3.57,-3.51,-3.43,-3.35,-3.29,-3.21,-3.06,-2.93,-2.78,-2.72,-2.63],
    33: [-3.59,-3.52,-3.31,-3.27,-3.15,-2.57],
    34: [-3.44,-3.28,-3.21,-3.15,-3.07,-2.99,-2.93,-2.86,-2.59,-2.54,-1.95],
    35: [-3.51,-3.45,-3.35,-3.27,-3.17,-3.08,-2.52],
    36: [-3.37,-3.33,-3.25,-3.15,-3.03,-2.93],
}
east_curve_x = [-5.92,-5.62,-5.33,-5.11,-4.91,-4.71,-4.53,-4.39,-4.27,-4.15,-4.03,-3.93,-3.83,-3.73,-3.63,-3.53,-3.43,-3.23,-.92]
east_curve_y = [.006,.014,.029,.052,.09,.144,.211,.287,.371,.48,.597,.706,.807,.899,.954,.983,.996,1.0,1.0]
east_upper_x = [-5.92,-5.64,-5.37,-5.11,-4.86,-4.65,-4.47,-4.31,-4.19,-4.07,-3.97,-3.85,-3.71,-3.63]
east_upper_y = [.10,.112,.132,.161,.207,.274,.358,.455,.547,.652,.765,.866,.941,.975]
east_lower_x = [-5.92,-5.62,-5.35,-5.07,-4.79,-4.57,-4.35,-4.23,-4.09,-3.98,-3.88,-3.79,-3.67,-3.56,-3.35,-3.23,-.99]
east_lower_y = [0,.002,.005,.014,.039,.081,.157,.241,.341,.446,.547,.652,.757,.849,.908,.912,.912]

# -------------------------
# D: ASSEMBLY PROCESS DATA
# -------------------------
process_names = ["HeS", "HoS", "DL", "HD", "DR"]
process_labels = ["HeS: heterogeneous selection", "HoS: homogeneous selection", "DL: dispersal limitation", "HD: homogenizing dispersal", "DR: drift (and others)"]
process_colors = ["#459CC4", "#F3D991", "#D5F0AF", "#F07D6E", "#5FCAD2"]
mid_shares = [4.5, 38.0, 13.0, 0.4, 44.1]
east_shares = [0.5, 35.8, 31.0, 0.8, 32.0]


def fx(px):
    return px / W


def fy(px):
    return 1 - px / H


fig = go.Figure()
layout_axes = {}
shapes = []
notes = []


def add_axes(n, box, xrange, yrange, xticks, xtext, yticks, ytext, xtitle=None, ytitle=None, xstandoff=15, ystandoff=20):
    left, right, top, bottom = box
    common = dict(
        showgrid=False, zeroline=False, showline=True, mirror=True, automargin=False,
        linecolor=INK, linewidth=4.5, ticks="inside", ticklen=12, tickwidth=3.5,
        tickcolor=INK, tickfont=dict(size=50, color=INK, family="Roboto"),
    )
    layout_axes[f"xaxis{n}"] = dict(
        common, domain=[fx(left), fx(right)], range=xrange, anchor=f"y{n}",
        tickmode="array", tickvals=xticks, ticktext=xtext, ticklabelstandoff=-5,
    )
    layout_axes[f"yaxis{n}"] = dict(
        common, domain=[fy(bottom), fy(top)], range=yrange, anchor=f"x{n}",
        tickmode="array", tickvals=yticks, ticktext=ytext, ticklabelstandoff=8,
    )
    if xtitle:
        layout_axes[f"xaxis{n}"]["title"] = dict(text=xtitle, standoff=xstandoff, font=dict(size=51, color=INK, family="Roboto", weight=500))
    if ytitle:
        layout_axes[f"yaxis{n}"]["title"] = dict(text=ytitle, standoff=ystandoff, font=dict(size=51, color=INK, family="Roboto", weight=500))


def add_note(text, x, y, color=INK, size=51, anchor="center", weight=400):
    notes.append(dict(
        text=text, x=fx(x), y=fy(y), xref="paper", yref="paper", showarrow=False,
        xanchor=anchor, yanchor="middle",
        font=dict(size=size, color=color, family="Roboto", weight=weight),
    ))


def add_rule(x0, x1, y, color=INK, width=4.5):
    shapes.append(dict(type="line", xref="paper", yref="paper", x0=fx(x0), x1=fx(x1), y0=fy(y), y1=fy(y), line=dict(color=color, width=width)))


def add_disc(cx, cy, r, fill, line=None, layer="above"):
    # cx, cy in reference pixels, r in window pixels, so that it stays round
    ox = cx * SX
    oy = cy * SY
    shapes.append(dict(
        type="circle", xref="paper", yref="paper", layer=layer,
        x0=(ox - r) / OUT, x1=(ox + r) / OUT, y0=1 - (oy + r) / OUT, y1=1 - (oy - r) / OUT,
        fillcolor=fill, line=line or dict(width=0),
    ))


def add_dots(n, x, y, color, size=21):
    fig.add_trace(go.Scatter(x=x, y=y, mode="markers", xaxis=f"x{n}", yaxis=f"y{n}", showlegend=False, marker=dict(color=color, size=size, line=dict(width=0))))


def add_curve(n, x, y, color, width=6, dash=None, shape="linear"):
    fig.add_trace(go.Scatter(x=x, y=y, mode="lines", xaxis=f"x{n}", yaxis=f"y{n}", showlegend=False, line=dict(color=color, width=width, dash=dash, shape=shape, smoothing=0.6)))


def add_badge(letter, y):
    add_disc(97, y, 43, "#3DB5C9", dict(color=INK, width=3))
    add_note(letter, 97, y, color="white", size=53, weight=500)


# -------------------------
# A: SCATTER PANELS
# -------------------------
a_xticks = [3.0, 3.5, 4.0, 4.5, 5.0, 5.5, 6.0]
a_xtext = ["3.0", "3.5", "4.0", "4.5", "5.0", "5.5", "6.0"]
a_yticks = [0, 0.2, 0.4, 0.6, 0.8, 1.0]
a_ytext = ["0.0", "0.2", "0.4", "0.6", "0.8", "1.0"]
geo_title = "Geographic distance (m, log<sub>10</sub>)"

add_axes(1, (326, 2205, 62, 953), [3.0, 6.245], [-0.1, 1.0], a_xticks, a_xtext, a_yticks, a_ytext, geo_title, "Community similarity", ystandoff=49)
add_dots(1, mid_summer_x, mid_summer_y, GREEN_PALE)
add_dots(1, mid_autumn_x, mid_autumn_y, TEAL)
add_curve(1, mid_fit_x, mid_summer_fit, GREEN_LINE, width=7)
add_curve(1, mid_fit_x, mid_autumn_fit, TEAL_LINE, width=7)

add_axes(2, (2540, 4439, 62, 953), [3.0, 6.25], [-0.1, 1.0], a_xticks, a_xtext, a_yticks, a_ytext, geo_title, "Community similarity", ystandoff=59)
add_dots(2, east_summer_x, east_summer_y, ORANGE_PALE)
add_dots(2, east_autumn_x, east_autumn_y, ORANGE)
add_curve(2, east_fit_x, east_summer_fit, YELLOW_LINE, width=7)
add_curve(2, east_fit_x, east_autumn_fit, ORANGE_LINE, width=7)

add_rule(380, 481, 832, GREEN_LINE, 7)
add_rule(380, 481, 898, TEAL_LINE, 7)
add_note("Summer: r = -0.72, <i>p</i> < 0.01, slope = 0.180", 507, 832, anchor="left")
add_note("Autumn: r = -0.45, <i>p</i> < 0.01, slope = 0.165", 507, 898, anchor="left")
add_rule(2595, 2696, 841, YELLOW_LINE, 7)
add_rule(2595, 2696, 906, ORANGE_LINE, 7)
add_note("Summer: r = -0.46, <i>p</i> < 0.01, slope = 0.119", 2725, 841, anchor="left")
add_note("Autumn: r = -0.41, <i>p</i> < 0.01, slope = 0.130", 2725, 906, anchor="left")
add_note("Middle", 2186, 106, anchor="right", weight=500)
add_note("East", 4418, 108, anchor="right", weight=500)
add_badge("A", 97)

# -------------------------
# B: BOX PANELS
# -------------------------
box_panels = [
    (3, 326, 1174, "Chao1", [227, 7324], [2000, 4000, 6000], ["2000", "4000", "6000"], 6410,
     chao_mid_box, chao_east_box, chao_mid_jit, chao_mid_val, chao_east_jit, chao_east_val),
    (4, 1356, 2206, "Shannon", [0.523, 11.1], [3, 6, 9], ["3", "6", "9"], 9.72,
     shan_mid_box, shan_east_box, shan_mid_jit, shan_mid_val, shan_east_jit, shan_east_val),
    (5, 2538, 3387, "Pielou’s e", [0.0877, 0.9436], [0.25, 0.5, 0.75], ["0.25", "0.50", "0.75"], 0.833,
     piel_mid_box, piel_east_box, piel_mid_jit, piel_mid_val, piel_east_jit, piel_east_val),
    (6, 3589, 4439, "Faith’s PD", [22, 317], [100, 200, 300], ["100", "200", "300"], 263,
     faith_mid_box, faith_east_box, faith_mid_jit, faith_mid_val, faith_east_jit, faith_east_val),
]

for n, left, right, name, yrange, yticks, ytext, sig, mbox, ebox, mjit, mval, ejit, eval_ in box_panels:
    add_axes(n, (left, right, 1304, 2476), [-0.7, 1.7], yrange, [0, 1], ["Middle", "East"], yticks, ytext)
    for pos, stats, line_c, fill_c in [(0, mbox, TEAL_LINE, TEAL_FILL), (1, ebox, ORANGE_LINE, ORANGE_FILL)]:
        fig.add_trace(go.Box(
            x=[pos], q1=[stats["q1"]], median=[stats["median"]], q3=[stats["q3"]],
            lowerfence=[stats["low"]], upperfence=[stats["high"]], width=0.75,
            whiskerwidth=0, boxpoints=False, fillcolor=fill_c,
            line=dict(color=line_c, width=4.5), xaxis=f"x{n}", yaxis=f"y{n}", showlegend=False,
        ))
    add_dots(n, [j for j in mjit], mval, TEAL, size=23)
    add_dots(n, [1 + j for j in ejit], eval_, ORANGE, size=23)

    shapes.append(dict(type="rect", xref="paper", yref="paper", x0=fx(left), x1=fx(right), y0=fy(1304), y1=fy(1170), fillcolor=STRIP, line=dict(color=INK, width=4.5)))
    add_note(name, (left + right) / 2, 1235, color="white", weight=500)

    shapes.append(dict(type="line", xref=f"x{n}", yref=f"y{n}", x0=0, x1=1, y0=sig, y1=sig, line=dict(color=INK, width=4.5)))
    notes.append(dict(text="***", x=0.5, y=sig, xref=f"x{n}", yref=f"y{n}", showarrow=False, yanchor="bottom", yshift=-6, font=dict(size=47, color=INK, family="Roboto")))

    # small box keys, Middle then East
    for top, line_c, fill_c, dot_c, label in [(2282, TEAL_LINE, TEAL_FILL, TEAL, "Middle"), (2373, ORANGE_LINE, ORANGE_FILL, ORANGE, "East")]:
        mid_px = top + 20
        kx0 = left + 572
        kx1 = left + 647
        kc = (kx0 + kx1) / 2
        shapes.append(dict(type="line", xref="paper", yref="paper", x0=fx(kc), x1=fx(kc), y0=fy(top - 11), y1=fy(top + 51), line=dict(color=line_c, width=3.5)))
        shapes.append(dict(type="rect", xref="paper", yref="paper", x0=fx(kx0), x1=fx(kx1), y0=fy(top + 40), y1=fy(top), fillcolor=fill_c, line=dict(color=line_c, width=3.5)))
        add_rule(kx0, kx1, mid_px, line_c, 3.5)
        add_disc(kc, mid_px, 7, dot_c)
        add_note(label, left + 664, mid_px, anchor="left", size=45)

shapes.append(dict(type="rect", xref="paper", yref="paper", x0=fx(2743), x1=fx(3185), y0=fy(1361), y1=fy(1309), fillcolor="white", line=dict(width=0)))
add_badge("B", 1212)

# -------------------------
# C: NEUTRAL MODEL PANELS
# -------------------------
c_yticks = [0, 0.2, 0.4, 0.6, 0.8, 1.0]
c_ytext = ["0.0", "0.2", "0.4", "0.6", "0.8", "1.0"]
c_xticks = [-6, -5, -4, -3, -2, -1]
c_xtext = ["−6", "−5", "−4", "−3", "−2", "−1"]
abund_title = "Mean relative abundance (log<sub>10</sub>)"


def add_rows(n, rows, levels, color):
    x = []
    y = []
    for row, values in rows.items():
        for v in values:
            x.append(v)
            y.append(levels[row - 1])
    add_dots(n, x, y, color, size=19.5)


add_axes(7, (326, 2203, 2649, 3579), [-6.04, -0.727], [0, 1.02], c_xticks, c_xtext, c_yticks, c_ytext, abund_title, "Frequency of occurance", xstandoff=21, ystandoff=55)
add_rows(7, mid_gray, mid_levels, GRAY)
add_rows(7, mid_above, mid_levels, GREEN_PALE)
add_rows(7, mid_below, mid_levels, TEAL)
add_curve(7, mid_upper_x, mid_upper_y, TEAL_LINE, width=6, dash="38px,50px", shape="spline")
add_curve(7, mid_lower_x, mid_lower_y, TEAL_LINE, width=6, dash="38px,50px", shape="spline")
add_curve(7, mid_curve_x, mid_curve_y, TEAL_LINE, width=6, shape="spline")

add_axes(8, (2539, 4414, 2649, 3579), [-6.02, -0.816], [0, 1.02], c_xticks, c_xtext, c_yticks, c_ytext, abund_title, "Frequency of occurance", xstandoff=21, ystandoff=58)
add_rows(8, east_gray, east_levels, GRAY)
add_rows(8, east_above, east_levels, ORANGE_PALE)
add_rows(8, east_below, east_levels, ORANGE)
add_curve(8, east_upper_x, east_upper_y, ORANGE_LINE, width=6, dash="38px,50px", shape="spline")
add_curve(8, east_lower_x, east_lower_y, ORANGE_LINE, width=6, dash="38px,50px", shape="spline")
add_curve(8, east_curve_x, east_curve_y, ORANGE_LINE, width=6, shape="spline")

add_note("Middle", 373, 2692, anchor="left")
add_note("East", 2584, 2698, anchor="left")
add_note("R² = 0.580", 1791, 3440, anchor="left")
add_note("Nm = 2621", 1791, 3503, anchor="left")
add_note("R² = 0.782", 4009, 3446, anchor="left")
add_note("Nm = 7965", 4009, 3509, anchor="left")
add_badge("C", 2661)

# -------------------------
# D: DONUT PANELS
# -------------------------
PIE_R = 440
PIE_Y = 4345

for cx, shares, rotation, hole in [(1038, mid_shares, 80, 0.476), (2684, east_shares, 59, 0.498)]:
    ox = cx * SX
    oy = PIE_Y * SY
    fig.add_trace(go.Pie(
        labels=process_names, values=shares, sort=False, direction="clockwise",
        rotation=rotation, hole=hole, textinfo="none", showlegend=False,
        marker=dict(colors=process_colors, line=dict(color="white", width=5)),
        domain=dict(x=[(ox - PIE_R) / OUT, (ox + PIE_R) / OUT], y=[1 - (oy + PIE_R) / OUT, 1 - (oy - PIE_R) / OUT]),
    ))
    add_disc(cx, PIE_Y, PIE_R * hole, "white", layer="below")

add_note("DR 44.1%", 1039, 3997, color="white")
add_note("HeS 4.5%", 1742, 4341, color="#3B96BF")
add_note("HoS 38.0%", 1142, 4697)
add_note("DL 13.0%", 682, 4438)
add_note("HD 0.4%", 360, 4256, color="#D9605A")
add_note("Middle", 1042, 4334, color=TEAL, weight=500)
add_rule(1545, 1607, 4341)
add_rule(473, 537, 4255)

add_note("DR 32.0%", 2687, 3997, color="white")
add_note("HeS 0.5%", 3315, 4088, color="#3B96BF")
add_note("HoS 35.8%", 2888, 4647)
add_note("DL 31.0%", 2348, 4499)
add_note("HD 0.8%", 2073, 4073, color="#D9605A")
add_note("East", 2685, 4334, color="#F0785A", weight=500)
add_rule(3123, 3185, 4087)
add_rule(2188, 2252, 4072)

for i, label in enumerate(process_labels):
    row_y = [4123, 4236, 4349, 4462, 4575][i]
    shapes.append(dict(type="rect", xref="paper", yref="paper", x0=fx(3526), x1=fx(3567), y0=fy(row_y + 22), y1=fy(row_y - 22), fillcolor=process_colors[i], line=dict(width=0)))
    add_note(label, 3582, row_y, anchor="left")
add_badge("D", 3888)

fig.update_layout(
    width=OUT, height=OUT, margin=dict(l=0, r=0, t=0, b=0, autoexpand=False),
    paper_bgcolor=BG, plot_bgcolor=BG, showlegend=False,
    font=dict(family="Roboto", color=INK, size=50),
    shapes=shapes, annotations=notes, **layout_axes,
)

fig.write_html("out.html", config={"displayModeBar": False}, post_script="document.body.style.margin='0';")
